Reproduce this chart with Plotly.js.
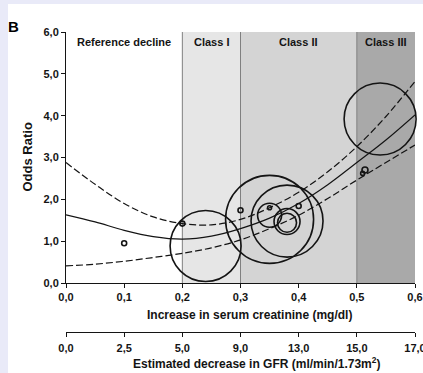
<!DOCTYPE html>
<html>
<head>
<meta charset="utf-8">
<script src="https://cdn.plot.ly/plotly-3.0.1.min.js"></script>
<style>
  html, body { margin: 0; padding: 0; background: #e9eaf8; width: 423px; height: 373px; overflow: hidden; }
  #chart { position: absolute; left: 8px; top: 4px; width: 415px; height: 369px; background: #ffffff; }
</style>
</head>
<body>
<div id="chart"></div>
<script>
// ---- data ----
const curveX     = [0, 0.05, 0.10, 0.15, 0.20, 0.25, 0.30, 0.35, 0.40, 0.45, 0.50, 0.55, 0.60];
const fitOR      = [1.63, 1.46, 1.26, 1.11, 1.05, 1.12, 1.30, 1.55, 1.90, 2.35, 2.88, 3.42, 4.02];
const upperCI    = [2.88, 2.36, 1.90, 1.58, 1.42, 1.39, 1.52, 1.80, 2.17, 2.66, 3.26, 3.98, 4.82];
const lowerCI    = [0.41, 0.45, 0.52, 0.61, 0.71, 0.84, 1.03, 1.30, 1.62, 2.02, 2.46, 2.88, 3.30];

const studyX     = [0.10, 0.20, 0.24, 0.30, 0.35, 0.35, 0.35, 0.38, 0.38, 0.38, 0.40, 0.51, 0.514, 0.54];
const studyOR    = [0.95, 1.42, 0.885, 1.74, 1.80, 1.52, 1.62, 1.48, 1.47, 1.44, 1.84, 2.62, 2.70, 3.92];
const studyWeight= [5, 5, 71, 5, 4, 88, 24, 72, 26, 19, 5, 4, 6, 72];

const classBounds = [0, 0.2, 0.3, 0.5, 0.6];
const classNames  = ['Reference decline', 'Class I', 'Class II', 'Class III'];
const classFills  = ['#ffffff', '#e6e6e6', '#d4d4d4', '#a9a9a9'];

const creatTicks  = [0, 0.1, 0.2, 0.3, 0.4, 0.5, 0.6];
const creatLabels = ['0,0', '0,1', '0,2', '0,3', '0,4', '0,5', '0,6'];
const gfrLabels   = ['0,0', '2,5', '5,0', '9,0', '13,0', '15,0', '17,0'];
const orTicks     = [0, 1, 2, 3, 4, 5, 6];
const orLabels    = ['0,0', '1,0', '2,0', '3,0', '4,0', '5,0', '6,0'];

// ---- build ----
const FONT = 'Liberation Sans, Arial, sans-serif';
const ink = '#141414';

const traces = [
  { x: curveX, y: upperCI, mode: 'lines', line: { color: ink, width: 1.2, dash: '7px,3px', shape: 'spline', smoothing: 1 }, hoverinfo: 'skip', showlegend: false },
  { x: curveX, y: lowerCI, mode: 'lines', line: { color: ink, width: 1.2, dash: '7px,3px', shape: 'spline', smoothing: 1 }, hoverinfo: 'skip', showlegend: false },
  { x: curveX, y: fitOR,   mode: 'lines', line: { color: ink, width: 1.2, shape: 'spline', smoothing: 1 }, hoverinfo: 'skip', showlegend: false },
  { x: studyX, y: studyOR, mode: 'markers', cliponaxis: false,
    marker: { size: studyWeight, sizemode: 'diameter', opacity: 1, color: 'rgba(0,0,0,0)', line: { color: ink, width: 1.6 } },
    showlegend: false },
  { x: [], y: [], xaxis: 'x2', yaxis: 'y', mode: 'markers', showlegend: false, hoverinfo: 'skip' }
];

const shapes = [];
for (let i = 0; i < classNames.length; i++) {
  shapes.push({ type: 'rect', layer: 'below', xref: 'x', yref: 'y',
    x0: classBounds[i], x1: classBounds[i + 1], y0: 0, y1: 6,
    fillcolor: classFills[i], line: { width: 0 } });
}
for (let i = 1; i < classBounds.length - 1; i++) {
  shapes.push({ type: 'line', layer: 'below', xref: 'x', yref: 'y',
    x0: classBounds[i], x1: classBounds[i], y0: 0, y1: 6,
    line: { color: '#808080', width: 1 } });
}

const annotations = classNames.map((n, i) => ({
  text: '<b>' + n + '</b>', xref: 'x', yref: 'paper',
  x: (classBounds[i] + classBounds[i + 1]) / 2, y: 0.9667,
  showarrow: false, xanchor: 'center', yanchor: 'middle',
  font: { family: FONT, size: 11, color: ink }
}));
annotations.push(
  { text: '<b>B</b>', xref: 'paper', yref: 'paper', x: -0.149, y: 1.0167, showarrow: false,
    xanchor: 'center', yanchor: 'middle', font: { family: FONT, size: 15, color: '#000' } },
  { text: '<b>Odds Ratio</b>', xref: 'paper', yref: 'paper', x: -0.1117, y: 0.5817, textangle: -90,
    showarrow: false, xanchor: 'center', yanchor: 'middle', font: { family: FONT, size: 13, color: ink } },
  { text: '<b>Increase in serum creatinine (mg/dl)</b>', xref: 'paper', yref: 'paper', x: 0.5258, y: 0.0567,
    showarrow: false, xanchor: 'center', yanchor: 'middle', font: { family: FONT, size: 12, color: ink } },
  { text: '<b>Estimated decrease in GFR (ml/min/1.73m<sup>2</sup>)</b>', xref: 'paper', yref: 'paper', x: 0.547, y: -0.1033,
    showarrow: false, xanchor: 'center', yanchor: 'middle', font: { family: FONT, size: 12, color: ink } }
);

const tickFont = { family: FONT, size: 11, color: ink, weight: 'bold' };

const layout = {
  width: 415, height: 369,
  margin: { l: 58, r: 8, t: 28, b: 41, pad: 0 },
  paper_bgcolor: '#ffffff', plot_bgcolor: 'rgba(0,0,0,0)',
  showlegend: false,
  xaxis: {
    range: [0, 0.6], anchor: 'y', showgrid: false, zeroline: false,
    showline: true, linecolor: ink, linewidth: 1,
    ticks: 'outside', ticklen: 4, tickcolor: ink, tickwidth: 1,
    tickvals: creatTicks, ticktext: creatLabels, tickfont: tickFont, automargin: false,
    ticklabeloverflow: 'allow'
  },
  xaxis2: {
    range: [0, 0.6], overlaying: 'x', anchor: 'free', position: 0, side: 'bottom',
    showgrid: false, zeroline: false, showline: true, linecolor: ink, linewidth: 1,
    ticks: 'outside', ticklen: 4, tickcolor: ink, tickwidth: 1,
    tickvals: creatTicks, ticktext: gfrLabels, tickfont: tickFont, automargin: false,
    ticklabelstandoff: 2, ticklabeloverflow: 'allow'
  },
  yaxis: {
    range: [0, 6], domain: [0.1633, 1], anchor: 'x', showgrid: false, zeroline: false,
    showline: true, linecolor: ink, linewidth: 1,
    ticks: 'outside', ticklen: 4, tickcolor: ink, tickwidth: 1,
    tickvals: orTicks, ticktext: orLabels, tickfont: tickFont, automargin: false
  },
  shapes: shapes,
  annotations: annotations
};

Plotly.newPlot('chart', traces, layout, { staticPlot: true, displayModeBar: false });
</script>
</body>
</html>
